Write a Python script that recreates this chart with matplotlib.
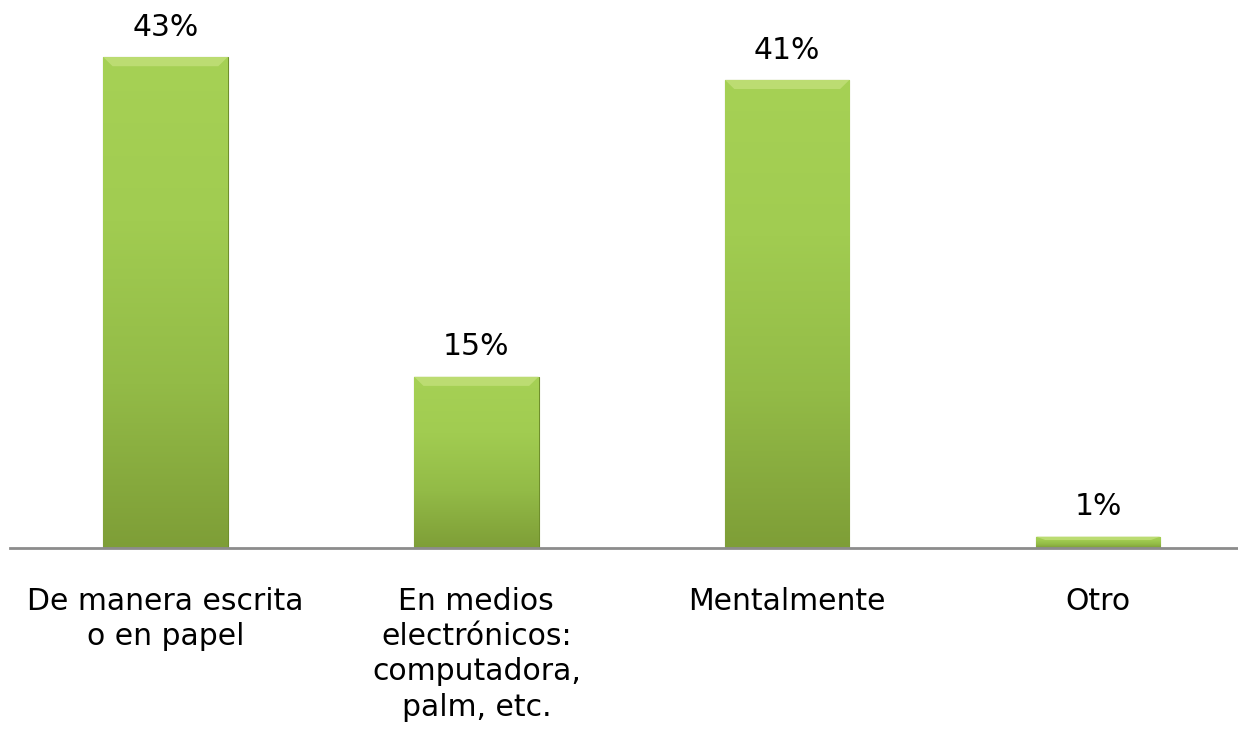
import numpy as np
import matplotlib
matplotlib.use("Agg")
import matplotlib.pyplot as plt
from matplotlib.colors import LinearSegmentedColormap

plt.rcParams["font.family"] = ["DejaVu Sans"]

categories = ["De manera escrita\no en papel",
              "En medios\nelectrónicos:\ncomputadora,\npalm, etc.",
              "Mentalmente",
              "Otro"]
values = [43, 15, 41, 1]
value_labels = ["43%", "15%", "41%", "1%"]

fig = plt.figure(figsize=(12.38, 7.29), dpi=100)
ax = fig.add_axes([10 / 1238, 181 / 729, 1228 / 1238, 548 / 729])

x = np.arange(len(categories))
bars = ax.bar(x, values, width=0.4, color="#a0cb4e", edgecolor="#6f8f2c",
              linewidth=0.8, zorder=2)

# vertical gradient inside each bar
green = LinearSegmentedColormap.from_list(
    "grn", ["#7e9e37", "#93bb47", "#a1cc51", "#a6d155"])
grad = np.linspace(0, 1, 256).reshape(-1, 1)
for i, b in enumerate(bars):
    x0, w, h = b.get_x(), b.get_width(), b.get_height()
    im = ax.imshow(grad, cmap=green, aspect="auto", origin="lower",
                   extent=(x0, x0 + w, 0, h), zorder=2.5)
    im.set_clip_path(b)
    # light bevel strip on top
    bev = min(0.8, h * 0.3)
    ax.fill([x0, x0 + w, x0 + w - 0.03, x0 + 0.03],
            [h, h, h - bev, h - bev], color="#c2e07a", alpha=0.8,
            lw=0, zorder=2.6)
    ax.text(x0 + w / 2, h + 1.35, value_labels[i],
            ha="center", va="bottom", fontsize=21.5, color="black")

ax.set_xlim(-0.5, 3.45)
ax.set_ylim(0, 48)
ax.set_yticks([])
ax.set_xticks(x)
ax.set_xticklabels(categories, fontsize=21.5, linespacing=1.27)
ax.tick_params(axis="x", length=0, pad=28)
for s in ["top", "right", "left"]:
    ax.spines[s].set_visible(False)
ax.spines["bottom"].set_color("#8c8c8c")
ax.spines["bottom"].set_linewidth(2)
ax.spines["bottom"].set_zorder(3)
ax.patch.set_alpha(0)

fig.savefig("out.png", dpi=100, facecolor="white")
